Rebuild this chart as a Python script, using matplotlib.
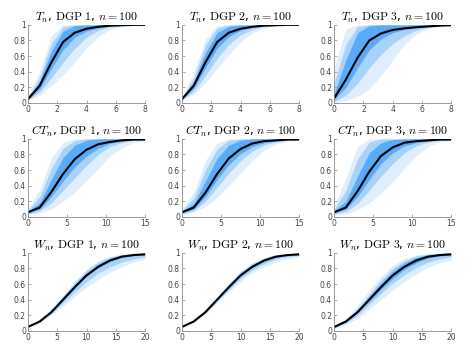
import numpy as np
import matplotlib.pyplot as plt

plt.rcParams['mathtext.fontset'] = 'cm'

# x grids for the three statistics
x_t = [0, 0.8, 1.6, 2.4, 3.2, 4.0, 4.8, 5.6, 6.4, 7.2, 8.0]
x_ct = [0, 1.5, 3, 4.5, 6, 7.5, 9, 10.5, 12, 13.5, 15]
x_w = [0, 2, 4, 6, 8, 10, 12, 14, 16, 18, 20]

# T_n, DGP 1
t1_line = [0.05, 0.22, 0.52, 0.78, 0.90, 0.95, 0.975, 0.99, 0.995, 1.0, 1.0]
t1_lo = [[0.03, 0.10, 0.22, 0.36, 0.52, 0.70, 0.85, 0.94, 0.98, 0.99, 1.0],
         [0.04, 0.14, 0.32, 0.52, 0.70, 0.84, 0.93, 0.97, 0.99, 1.0, 1.0],
         [0.045, 0.18, 0.44, 0.68, 0.84, 0.92, 0.96, 0.985, 0.995, 1.0, 1.0]]
t1_hi = [[0.08, 0.40, 0.86, 1.0, 1.0, 1.0, 1.0, 1.0, 1.0, 1.0, 1.0],
         [0.07, 0.33, 0.76, 0.97, 1.0, 1.0, 1.0, 1.0, 1.0, 1.0, 1.0],
         [0.06, 0.28, 0.66, 0.92, 0.99, 1.0, 1.0, 1.0, 1.0, 1.0, 1.0]]

# T_n, DGP 2
t2_line = [0.05, 0.22, 0.52, 0.78, 0.90, 0.95, 0.975, 0.99, 0.995, 1.0, 1.0]
t2_lo = [[0.03, 0.11, 0.26, 0.44, 0.62, 0.78, 0.90, 0.96, 0.99, 1.0, 1.0],
         [0.04, 0.15, 0.35, 0.57, 0.75, 0.87, 0.94, 0.98, 0.99, 1.0, 1.0],
         [0.045, 0.19, 0.45, 0.70, 0.85, 0.93, 0.97, 0.99, 1.0, 1.0, 1.0]]
t2_hi = [[0.08, 0.38, 0.82, 0.99, 1.0, 1.0, 1.0, 1.0, 1.0, 1.0, 1.0],
         [0.07, 0.32, 0.74, 0.96, 1.0, 1.0, 1.0, 1.0, 1.0, 1.0, 1.0],
         [0.06, 0.27, 0.64, 0.90, 0.98, 1.0, 1.0, 1.0, 1.0, 1.0, 1.0]]

# T_n, DGP 3
t3_line = [0.06, 0.30, 0.58, 0.80, 0.89, 0.935, 0.955, 0.97, 0.98, 0.99, 0.995]
t3_lo = [[0.0, 0.03, 0.08, 0.18, 0.35, 0.55, 0.75, 0.88, 0.95, 0.98, 1.0],
         [0.02, 0.10, 0.25, 0.45, 0.62, 0.76, 0.86, 0.93, 0.97, 0.99, 1.0],
         [0.04, 0.20, 0.45, 0.68, 0.82, 0.90, 0.94, 0.96, 0.98, 0.99, 1.0]]
t3_hi = [[0.45, 0.95, 1.0, 1.0, 1.0, 1.0, 1.0, 1.0, 1.0, 1.0, 1.0],
         [0.25, 0.75, 0.98, 1.0, 1.0, 1.0, 1.0, 1.0, 1.0, 1.0, 1.0],
         [0.12, 0.55, 0.90, 0.99, 1.0, 1.0, 1.0, 1.0, 1.0, 1.0, 1.0]]

# CT_n, DGP 1
c1_line = [0.06, 0.12, 0.32, 0.55, 0.74, 0.86, 0.93, 0.96, 0.98, 0.99, 0.99]
c1_lo = [[0.03, 0.05, 0.10, 0.20, 0.32, 0.46, 0.62, 0.78, 0.88, 0.95, 0.98],
         [0.04, 0.08, 0.18, 0.34, 0.50, 0.66, 0.80, 0.90, 0.95, 0.98, 0.99],
         [0.05, 0.10, 0.26, 0.46, 0.64, 0.78, 0.88, 0.94, 0.97, 0.99, 0.99]]
c1_hi = [[0.10, 0.35, 0.75, 0.96, 1.0, 1.0, 1.0, 1.0, 1.0, 1.0, 1.0],
         [0.08, 0.26, 0.62, 0.88, 0.98, 1.0, 1.0, 1.0, 1.0, 1.0, 1.0],
         [0.07, 0.18, 0.48, 0.76, 0.92, 0.98, 1.0, 1.0, 1.0, 1.0, 1.0]]

# CT_n, DGP 2
c2_line = [0.06, 0.12, 0.31, 0.55, 0.75, 0.87, 0.94, 0.97, 0.98, 0.99, 0.99]
c2_lo = [[0.03, 0.06, 0.13, 0.25, 0.40, 0.56, 0.72, 0.85, 0.93, 0.97, 0.99],
         [0.04, 0.08, 0.20, 0.38, 0.56, 0.72, 0.84, 0.92, 0.96, 0.98, 0.99],
         [0.05, 0.10, 0.26, 0.48, 0.67, 0.81, 0.90, 0.95, 0.97, 0.99, 0.99]]
c2_hi = [[0.10, 0.32, 0.72, 0.95, 1.0, 1.0, 1.0, 1.0, 1.0, 1.0, 1.0],
         [0.08, 0.24, 0.60, 0.87, 0.98, 1.0, 1.0, 1.0, 1.0, 1.0, 1.0],
         [0.07, 0.17, 0.46, 0.75, 0.92, 0.98, 1.0, 1.0, 1.0, 1.0, 1.0]]

# CT_n, DGP 3
c3_line = [0.06, 0.12, 0.33, 0.58, 0.78, 0.89, 0.95, 0.97, 0.98, 0.99, 0.99]
c3_lo = [[0.02, 0.04, 0.09, 0.18, 0.30, 0.45, 0.62, 0.78, 0.90, 0.96, 0.98],
         [0.04, 0.07, 0.17, 0.34, 0.52, 0.68, 0.82, 0.91, 0.96, 0.98, 0.99],
         [0.05, 0.10, 0.26, 0.48, 0.68, 0.82, 0.91, 0.95, 0.97, 0.99, 0.99]]
c3_hi = [[0.14, 0.50, 0.90, 1.0, 1.0, 1.0, 1.0, 1.0, 1.0, 1.0, 1.0],
         [0.10, 0.34, 0.74, 0.96, 1.0, 1.0, 1.0, 1.0, 1.0, 1.0, 1.0],
         [0.08, 0.20, 0.52, 0.82, 0.95, 0.99, 1.0, 1.0, 1.0, 1.0, 1.0]]

# W_n, DGP 1
w1_line = [0.05, 0.12, 0.24, 0.40, 0.56, 0.71, 0.82, 0.90, 0.95, 0.97, 0.98]
w1_lo = [[0.045, 0.10, 0.20, 0.32, 0.44, 0.56, 0.66, 0.75, 0.82, 0.88, 0.92],
         [0.05, 0.11, 0.22, 0.36, 0.50, 0.63, 0.74, 0.82, 0.88, 0.92, 0.95],
         [0.05, 0.12, 0.235, 0.39, 0.55, 0.70, 0.81, 0.89, 0.94, 0.965, 0.975]]
w1_hi = [[0.05, 0.13, 0.27, 0.46, 0.64, 0.79, 0.90, 0.955, 0.98, 0.995, 1.0],
         [0.05, 0.13, 0.26, 0.44, 0.62, 0.77, 0.88, 0.945, 0.975, 0.99, 1.0],
         [0.05, 0.125, 0.25, 0.42, 0.59, 0.745, 0.855, 0.93, 0.965, 0.98, 0.99]]

# W_n, DGP 2
w2_line = [0.05, 0.12, 0.24, 0.40, 0.56, 0.71, 0.82, 0.90, 0.95, 0.97, 0.98]
w2_lo = [[0.05, 0.11, 0.22, 0.36, 0.50, 0.63, 0.74, 0.82, 0.88, 0.92, 0.95],
         [0.05, 0.115, 0.23, 0.38, 0.53, 0.67, 0.78, 0.86, 0.92, 0.95, 0.965],
         [0.05, 0.12, 0.24, 0.395, 0.55, 0.70, 0.81, 0.89, 0.94, 0.965, 0.975]]
w2_hi = [[0.05, 0.125, 0.255, 0.43, 0.61, 0.77, 0.875, 0.94, 0.975, 0.99, 0.995],
         [0.05, 0.12, 0.25, 0.42, 0.595, 0.755, 0.86, 0.93, 0.97, 0.985, 0.99],
         [0.05, 0.12, 0.245, 0.41, 0.58, 0.735, 0.845, 0.92, 0.96, 0.98, 0.985]]

# W_n, DGP 3
w3_line = [0.05, 0.12, 0.24, 0.40, 0.56, 0.71, 0.82, 0.90, 0.95, 0.97, 0.98]
w3_lo = [[0.03, 0.08, 0.16, 0.28, 0.40, 0.52, 0.63, 0.73, 0.81, 0.87, 0.91],
         [0.04, 0.10, 0.20, 0.34, 0.48, 0.61, 0.72, 0.81, 0.88, 0.92, 0.95],
         [0.045, 0.11, 0.23, 0.38, 0.53, 0.67, 0.79, 0.87, 0.93, 0.96, 0.97]]
w3_hi = [[0.06, 0.16, 0.32, 0.52, 0.70, 0.84, 0.93, 0.97, 0.99, 1.0, 1.0],
         [0.055, 0.14, 0.29, 0.47, 0.65, 0.80, 0.90, 0.96, 0.98, 0.99, 1.0],
         [0.05, 0.13, 0.26, 0.44, 0.61, 0.76, 0.87, 0.94, 0.97, 0.99, 0.99]]

panels = [
    (x_t, t1_line, t1_lo, t1_hi, r'$T_n$, $\mathrm{DGP\ 1}$, $n = 100$', [0, 2, 4, 6, 8]),
    (x_t, t2_line, t2_lo, t2_hi, r'$T_n$, $\mathrm{DGP\ 2}$, $n = 100$', [0, 2, 4, 6, 8]),
    (x_t, t3_line, t3_lo, t3_hi, r'$T_n$, $\mathrm{DGP\ 3}$, $n = 100$', [0, 2, 4, 6, 8]),
    (x_ct, c1_line, c1_lo, c1_hi, r'$CT_n$, $\mathrm{DGP\ 1}$, $n = 100$', [0, 5, 10, 15]),
    (x_ct, c2_line, c2_lo, c2_hi, r'$CT_n$, $\mathrm{DGP\ 2}$, $n = 100$', [0, 5, 10, 15]),
    (x_ct, c3_line, c3_lo, c3_hi, r'$CT_n$, $\mathrm{DGP\ 3}$, $n = 100$', [0, 5, 10, 15]),
    (x_w, w1_line, w1_lo, w1_hi, r'$W_n$, $\mathrm{DGP\ 1}$, $n = 100$', [0, 5, 10, 15, 20]),
    (x_w, w2_line, w2_lo, w2_hi, r'$W_n$, $\mathrm{DGP\ 2}$, $n = 100$', [0, 5, 10, 15, 20]),
    (x_w, w3_line, w3_lo, w3_hi, r'$W_n$, $\mathrm{DGP\ 3}$, $n = 100$', [0, 5, 10, 15, 20]),
]

band_color = '#1a8cf5'
band_alpha = [0.14, 0.28, 0.55]

fig = plt.figure(figsize=(4.74, 3.55), dpi=100)
lefts = [0.059, 0.384, 0.705]
bottoms = [0.710, 0.389, 0.068]

for k, (x, line, lo, hi, title, xt) in enumerate(panels):
    r, c = divmod(k, 3)
    ax = fig.add_axes([lefts[c], bottoms[r], 0.247, 0.220])
    for j in range(3):
        ax.fill_between(x, lo[j], hi[j], color=band_color, alpha=band_alpha[j], lw=0)
    ax.plot(x, line, color='black', lw=1.5)
    ax.set_xlim(x[0], x[-1])
    ax.set_ylim(0, 1)
    ax.set_xticks(xt)
    ax.set_yticks([0, 0.2, 0.4, 0.6, 0.8, 1])
    ax.set_yticklabels(['0', '0.2', '0.4', '0.6', '0.8', '1'])
    ax.spines['top'].set_visible(False)
    ax.spines['right'].set_visible(False)
    for s in ['left', 'bottom']:
        ax.spines[s].set_color('#8c8c8c')
        ax.spines[s].set_linewidth(0.6)
    ax.tick_params(direction='in', length=2, width=0.5, colors='#8c8c8c',
                   labelsize=5.5, labelcolor='#444444', pad=1.5)
    ax.set_title(title, fontsize=8.5, pad=3)

fig.savefig('out.png', dpi=100)
